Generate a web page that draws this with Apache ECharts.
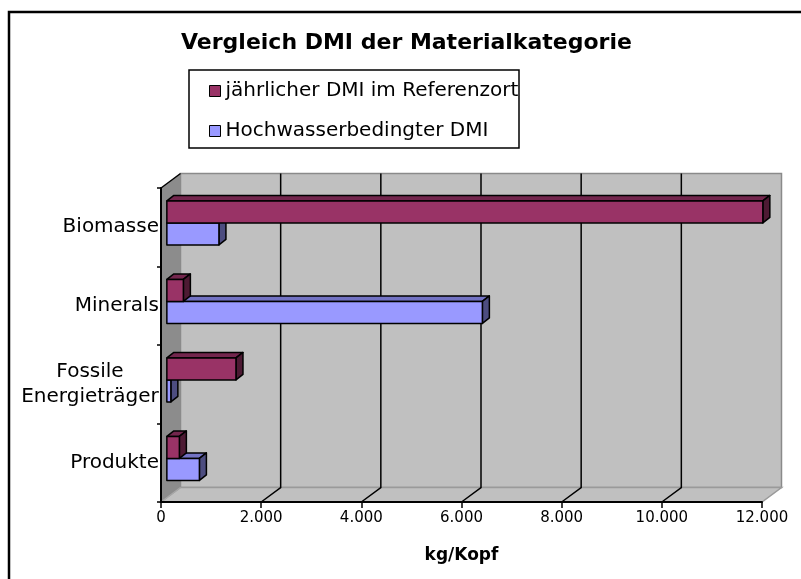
<!DOCTYPE html>
<html>
<head>
<meta charset="utf-8">
<title>Vergleich DMI der Materialkategorien</title>
<script src="https://cdn.jsdelivr.net/npm/echarts@6/dist/echarts.min.js"></script>
<style>
  html, body { margin: 0; padding: 0; background: #fff; }
  #main { width: 801px; height: 579px; }
</style>
</head>
<body>
<div id="main"></div>
<script>
// Daten
var categories = ['Biomasse', 'Minerals', 'Fossile Energieträger', 'Produkte'];
var referenzort = [11900, 330, 1380, 250];
var hochwasser = [1040, 6300, 80, 650];
var gridValues = [2000, 4000, 6000, 8000, 10000];

// 3D-Versatz der Rückwand und der Balken (Pixel)
var DEPTH = [19.5, -14.5];
var BAR_OFFSET = 0.3;
var BAR_DEPTH = [7, -5.5];
var FONT = 'DejaVu Sans, Verdana, sans-serif';

var colors = {
  red: { front: '#993366', top: '#73264d', side: '#4d1a33' },
  blue: { front: '#9999ff', top: '#7373c4', side: '#4d4d80' }
};

function formatNumber(v) {
  return String(v).replace(/\B(?=(\d{3})+(?!\d))/g, '.');
}

// Wände, Boden und Gitterlinien
function renderWalls(params, api) {
  var cs = params.coordSys;
  var x = cs.x, y = cs.y, w = cs.width, h = cs.height;
  var dx = DEPTH[0], dy = DEPTH[1];
  var children = [
    {
      type: 'rect',
      shape: { x: x + dx, y: y + dy, width: w, height: h },
      style: { fill: '#c0c0c0', stroke: '#8a8a8a', lineWidth: 1.5 }
    },
    {
      type: 'polygon',
      shape: { points: [[x, y + h], [x + dx, y + h + dy], [x + w + dx, y + h + dy], [x + w, y + h]] },
      style: { fill: '#c0c0c0', stroke: '#9a9a9a', lineWidth: 1.5 }
    },
    {
      type: 'polygon',
      shape: { points: [[x, y], [x + dx, y + dy], [x + dx, y + h + dy], [x, y + h]] },
      style: { fill: '#8c8c8c' }
    },
    {
      type: 'line',
      shape: { x1: x, y1: y + h, x2: x + dx, y2: y + h + dy },
      style: { stroke: '#a8a8a8', lineWidth: 1.2 }
    },
    {
      type: 'line',
      shape: { x1: x, y1: y, x2: x + dx, y2: y + dy },
      style: { stroke: '#000', lineWidth: 1.5 }
    }
  ];
  gridValues.forEach(function (v) {
    var gx = api.coord([v, 0])[0];
    children.push({
      type: 'polyline',
      shape: { points: [[gx + dx, y + dy], [gx + dx, y + h + dy], [gx, y + h]] },
      style: { stroke: '#000', lineWidth: 1.5, fill: null }
    });
  });
  return { type: 'group', children: children };
}

// 3D-Balken: pos -1 = obere Hälfte, 0 = untere Hälfte der Kategorie
function makeBarRenderer(pal, pos) {
  return function (params, api) {
    var v = api.value(0);
    var i = api.value(1);
    var p0 = api.coord([0, i]);
    var p1 = api.coord([v, i]);
    var band = api.size([0, 1])[1];
    var bh = band * 0.28;
    var ox = DEPTH[0] * BAR_OFFSET, oy = DEPTH[1] * BAR_OFFSET;
    var bx = BAR_DEPTH[0], by = BAR_DEPTH[1];
    var yc = p0[1] + oy;
    var top = yc + pos * bh;
    var bottom = top + bh;
    var x0 = p0[0] + ox, x1 = p1[0] + ox;
    var st = { stroke: '#000', lineWidth: 1.5, lineJoin: 'round' };
    return {
      type: 'group',
      children: [
        {
          type: 'polygon',
          shape: { points: [[x0, top], [x0 + bx, top + by], [x1 + bx, top + by], [x1, top]] },
          style: Object.assign({ fill: pal.top }, st)
        },
        {
          type: 'polygon',
          shape: { points: [[x1, top], [x1 + bx, top + by], [x1 + bx, bottom + by], [x1, bottom]] },
          style: Object.assign({ fill: pal.side }, st)
        },
        {
          type: 'rect',
          shape: { x: x0, y: top, width: x1 - x0, height: bh },
          style: Object.assign({ fill: pal.front }, st)
        }
      ]
    };
  };
}

var chart = echarts.init(document.getElementById('main'));

var option = {
  animation: false,
  backgroundColor: '#fff',
  title: {
    text: 'Vergleich DMI der Materialkategorie',
    left: 181,
    top: 32,
    padding: 0,
    textStyle: { fontFamily: FONT, fontSize: 22, fontWeight: 'bold', color: '#000' }
  },
  legend: {
    data: ['jährlicher DMI im Referenzort', 'Hochwasserbedingter DMI'],
    orient: 'vertical',
    left: 209,
    top: 81,
    padding: 0,
    itemGap: 20,
    itemWidth: 11,
    itemHeight: 11,
    icon: 'rect',
    itemStyle: { borderColor: '#000', borderWidth: 1 },
    textStyle: { fontFamily: FONT, fontSize: 20, lineHeight: 20, color: '#000', padding: [0, 0, 0, 0] }
  },
  graphic: [
    {
      type: 'rect',
      shape: { x: 189, y: 70, width: 330, height: 78 },
      style: { fill: 'transparent', stroke: '#000', lineWidth: 1.5 },
      z: 10
    },
    {
      type: 'polyline',
      shape: { points: [[9, 900], [9, 12], [1000, 12]] },
      style: { fill: null, stroke: '#000', lineWidth: 2.5 },
      z: 10
    }
  ],
  grid: {
    left: 161,
    top: 188,
    width: 601,
    height: 314
  },
  xAxis: {
    type: 'value',
    min: 0,
    max: 12000,
    interval: 2000,
    name: 'kg/Kopf',
    nameLocation: 'middle',
    nameGap: 45,
    nameTextStyle: { fontFamily: FONT, fontSize: 17, fontWeight: 'bold', color: '#000' },
    axisLine: { show: true, lineStyle: { color: '#000', width: 2 } },
    axisTick: { show: true, length: 6, lineStyle: { color: '#000', width: 1.5 } },
    axisLabel: {
      margin: 9,
      fontFamily: FONT,
      fontSize: 15,
      color: '#000',
      formatter: formatNumber
    },
    splitLine: { show: false }
  },
  yAxis: {
    type: 'category',
    data: categories,
    inverse: true,
    axisLine: { show: true, lineStyle: { color: '#000', width: 2 } },
    axisTick: { show: true, length: 4, lineStyle: { color: '#000', width: 1.5 } },
    axisLabel: {
      margin: 2,
      fontFamily: FONT,
      fontSize: 20,
      color: '#000',
      formatter: function (val) {
        if (val.indexOf(' ') < 0) return val;
        return val.split(' ').map(function (s) { return '{c|' + s + '}'; }).join('\n');
      },
      rich: {
        c: { width: 138, align: 'center', fontFamily: FONT, fontSize: 20, lineHeight: 25, color: '#000' }
      }
    },
    splitLine: { show: false }
  },
  series: [
    {
      name: 'walls',
      type: 'custom',
      z: -1,
      silent: true,
      renderItem: renderWalls,
      data: [[0, 0]],
      encode: { x: 0, y: 1 }
    },
    {
      name: 'Hochwasserbedingter DMI',
      type: 'custom',
      z: 3,
      itemStyle: { color: colors.blue.front },
      renderItem: makeBarRenderer(colors.blue, 0),
      encode: { x: 0, y: 1 },
      data: hochwasser.map(function (v, i) { return [v, i]; })
    },
    {
      name: 'jährlicher DMI im Referenzort',
      type: 'custom',
      z: 4,
      itemStyle: { color: colors.red.front },
      renderItem: makeBarRenderer(colors.red, -1),
      encode: { x: 0, y: 1 },
      data: referenzort.map(function (v, i) { return [v, i]; })
    }
  ]
};

chart.setOption(option);
window.addEventListener('resize', function () { chart.resize(); });
</script>
</body>
</html>
